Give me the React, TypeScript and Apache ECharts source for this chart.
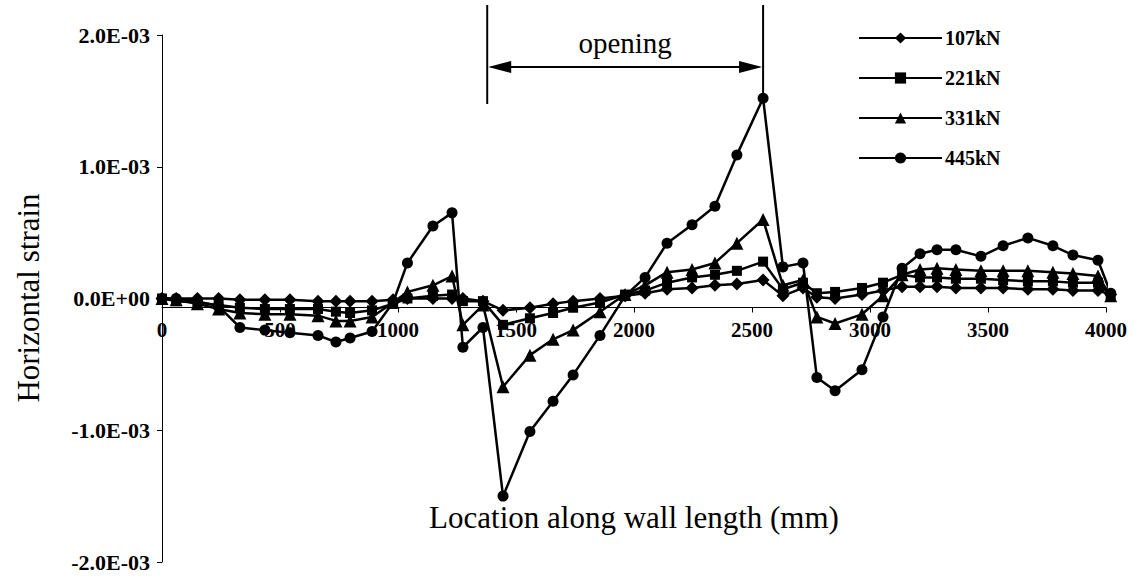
import React, { useEffect, useRef } from "react";
import * as echarts from "echarts";

// Gauge locations along the wall (mm)
const positions = [
  0, 60, 150, 240, 330, 436, 542, 661, 737, 797, 890, 979, 1040, 1148, 1229,
  1275, 1360, 1445, 1559, 1657, 1742, 1856, 1962, 2047, 2140, 2246, 2343, 2436,
  2547, 2631, 2716, 2775, 2852, 2966, 3055, 3136, 3212, 3284, 3364, 3470, 3564,
  3669, 3775, 3860, 3966, 4020,
];

// Horizontal strain values, in units of 1E-03
const strain107 = [
  0, 0, 0, 0, -0.01, -0.01, -0.01, -0.02, -0.02, -0.02, -0.02, -0.01, 0, 0, 0,
  0, -0.02, -0.09, -0.07, -0.04, -0.02, 0, 0.02, 0.04, 0.07, 0.08, 0.1, 0.11,
  0.14, 0.02, 0.08, 0.01, 0, 0.03, 0.06, 0.09, 0.09, 0.09, 0.08, 0.08, 0.08,
  0.07, 0.07, 0.06, 0.06, 0.03,
];
const strain221 = [
  0, -0.02, -0.03, -0.05, -0.07, -0.08, -0.08, -0.08, -0.1, -0.11, -0.09, -0.04,
  0, 0.02, 0.03, -0.02, -0.02, -0.2, -0.15, -0.11, -0.07, -0.03, 0.03, 0.06,
  0.12, 0.16, 0.18, 0.21, 0.28, 0.07, 0.12, 0.04, 0.05, 0.08, 0.12, 0.18, 0.16,
  0.16, 0.15, 0.15, 0.14, 0.13, 0.13, 0.12, 0.12, 0.02,
];
const strain331 = [
  0, -0.01, -0.04, -0.08, -0.11, -0.12, -0.12, -0.13, -0.17, -0.17, -0.14,
  -0.03, 0.05, 0.1, 0.17, -0.2, -0.05, -0.67, -0.43, -0.31, -0.24, -0.1, 0.03,
  0.1, 0.2, 0.22, 0.27, 0.42, 0.6, 0.1, 0.14, -0.14, -0.19, -0.12, 0.02, 0.18,
  0.22, 0.23, 0.22, 0.21, 0.21, 0.21, 0.2, 0.19, 0.17, 0.02,
];
const strain445 = [
  0, 0, -0.02, -0.06, -0.22, -0.24, -0.26, -0.28, -0.33, -0.3, -0.25, -0.03,
  0.27, 0.55, 0.65, -0.37, -0.22, -1.5, -1.01, -0.78, -0.58, -0.28, 0.02, 0.16,
  0.42, 0.56, 0.7, 1.09, 1.52, 0.24, 0.27, -0.6, -0.7, -0.54, -0.14, 0.23, 0.34,
  0.37, 0.37, 0.32, 0.4, 0.46, 0.4, 0.33, 0.29, 0.04,
];
const STRAIN_UNIT = 1e-3;

const seriesNames = ["107kN", "221kN", "331kN", "445kN"];
const seriesSymbols = ["diamond", "rect", "triangle", "circle"];
const seriesSymbolSizes = [13, 10, 13, 11];
const seriesValues = [strain107, strain221, strain331, strain445];

const xTicks = [0, 500, 1000, 1500, 2000, 2500, 3000, 3500, 4000];
const yMin = -2e-3;
const yMax = 2e-3;
const yInterval = 1e-3;

const openingStart = 1378;
const openingEnd = 2547;
const openingLabel = "opening";
const xTitle = "Location along wall length (mm)";
const yTitle = "Horizontal strain";

const SERIF = "'Liberation Serif', 'Times New Roman', serif";

function fmtExp(v: number): string {
  if (Math.abs(v) < 1e-12) return "0.0E+00";
  const s = v.toExponential(1);
  const [m, e] = s.split("e");
  const n = parseInt(e, 10);
  const sign = n < 0 ? "-" : "+";
  return m + "E" + sign + String(Math.abs(n)).padStart(2, "0");
}

export default function App() {
  const ref = useRef<HTMLDivElement>(null);

  useEffect(() => {
    if (!ref.current) return;
    const chart = echarts.init(ref.current, null, { renderer: "svg" });

    const series = seriesNames.map((name, k) => ({
      name,
      type: "line",
      data: positions.map((x, i) => [x, seriesValues[k][i] * STRAIN_UNIT]),
      symbol: seriesSymbols[k],
      symbolSize: seriesSymbolSizes[k],
      showAllSymbol: true,
      clip: false,
      z: 2 + k,
      itemStyle: { color: "#000" },
      lineStyle: { color: "#000", width: 2.5 },
    }));

    chart.setOption({
      animation: false,
      backgroundColor: "#fff",
      grid: { left: 162, right: 38, top: 35, bottom: 15, containLabel: false },
      legend: {
        orient: "vertical",
        left: 858,
        top: 27,
        padding: 0,
        itemWidth: 83,
        itemHeight: 14,
        itemGap: 18,
        data: seriesNames,
        textStyle: {
          fontFamily: SERIF,
          fontSize: 20,
          fontWeight: "bold",
          color: "#000",
          lineHeight: 22,
          padding: [0, 0, 0, -2],
        },
      },
      xAxis: {
        type: "value",
        position: "bottom",
        min: xTicks[0],
        max: xTicks[xTicks.length - 1],
        interval: xTicks[1] - xTicks[0],
        splitLine: { show: false },
        axisLine: { onZero: false, lineStyle: { color: "#000", width: 1 } },
        axisTick: { show: true, length: 5, lineStyle: { color: "#000" } },
        axisLabel: {
          color: "#000",
          fontFamily: SERIF,
          fontSize: 21,
          fontWeight: "bold",
          margin: 12,
          formatter: (v: number) => String(v),
        },
      },
      yAxis: {
        type: "value",
        min: yMin,
        max: yMax,
        interval: yInterval,
        splitLine: { show: false },
        axisLine: { show: true, onZero: false, lineStyle: { color: "#000", width: 1 } },
        axisTick: { show: true, length: 5, lineStyle: { color: "#000" } },
        axisLabel: {
          color: "#000",
          fontFamily: SERIF,
          fontSize: 22,
          fontWeight: "bold",
          margin: 12,
          formatter: (v: number) => fmtExp(v),
        },
      },
      series,
    });

    // place the x axis on the zero strain line
    const zeroY = chart.convertToPixel({ yAxisIndex: 0 }, 0) as number;
    const bottomY = chart.convertToPixel({ yAxisIndex: 0 }, yMin) as number;

    const pL = chart.convertToPixel({ gridIndex: 0 }, [openingStart, 0]) as number[];
    const pR = chart.convertToPixel({ gridIndex: 0 }, [openingEnd, 0]) as number[];
    const pMid = chart.convertToPixel({ gridIndex: 0 }, [2000, 0]) as number[];
    const xl = pL[0];
    const xr = pR[0];
    const ay = 67;
    const lineStyle = { stroke: "#000", lineWidth: 2 };

    chart.setOption({
      xAxis: { offset: zeroY - bottomY },
      graphic: [
        { type: "line", shape: { x1: xl, y1: 5, x2: xl, y2: 104 }, style: lineStyle },
        { type: "line", shape: { x1: xr, y1: 5, x2: xr, y2: 100 }, style: lineStyle },
        { type: "line", shape: { x1: xl + 4, y1: ay, x2: xr - 4, y2: ay }, style: lineStyle },
        {
          type: "polygon",
          shape: { points: [[xl + 1, ay], [xl + 24, ay - 6], [xl + 24, ay + 6]] },
          style: { fill: "#000" },
        },
        {
          type: "polygon",
          shape: { points: [[xr - 1, ay], [xr - 24, ay - 6], [xr - 24, ay + 6]] },
          style: { fill: "#000" },
        },
        {
          type: "text",
          x: (xl + xr) / 2,
          y: 43,
          style: {
            text: openingLabel,
            font: `29px ${SERIF}`,
            fill: "#000",
            textAlign: "center",
            textVerticalAlign: "middle",
          },
        },
        {
          type: "text",
          x: pMid[0],
          y: 517,
          style: {
            text: xTitle,
            font: `31px ${SERIF}`,
            fill: "#000",
            textAlign: "center",
            textVerticalAlign: "middle",
          },
        },
        {
          type: "text",
          x: 28,
          y: 298,
          rotation: Math.PI / 2,
          style: {
            text: yTitle,
            font: `31px ${SERIF}`,
            fill: "#000",
            textAlign: "center",
            textVerticalAlign: "middle",
          },
        },
      ],
    });

    return () => chart.dispose();
  }, []);

  return (
    <div
      ref={ref}
      style={{ position: "fixed", left: 0, top: 0, width: 1144, height: 577, background: "#fff" }}
    />
  );
}
